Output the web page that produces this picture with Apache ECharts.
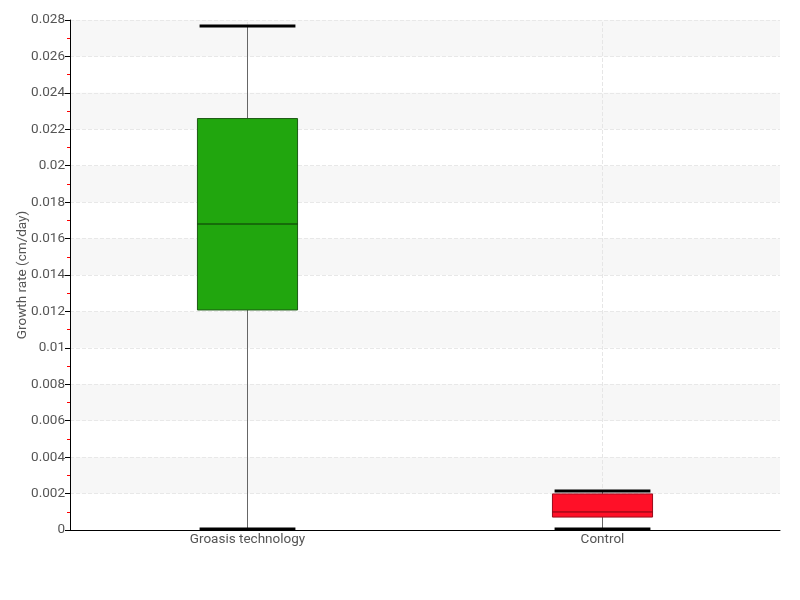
<!DOCTYPE html>
<html><head><meta charset="utf-8">
<script src="https://cdn.jsdelivr.net/npm/echarts@6/dist/echarts.min.js"></script>
<style>html,body{margin:0;padding:0;background:#fff}#c{width:800px;height:600px}</style>
</head><body><div id="c"></div>
<script>
var categories = ['Groasis technology', 'Control'];
var whiskerLow = [0.00005, 0.00005];
var q1 = [0.01208, 0.00071];
var median = [0.0168, 0.00099];
var q3 = [0.02259, 0.00198];
var whiskerHigh = [0.02767, 0.00214];
var boxColors = ['#21a60e', '#ff1028'];
var borderColors = ['#1d5a14', '#9a0a1a'];
var medianColors = ['#0c3306', '#7a0612'];

var data = categories.map(function (c, i) {
  return [i, whiskerLow[i], q1[i], median[i], q3[i], whiskerHigh[i]];
});
var font = "'Roboto','Liberation Sans Narrow',sans-serif";

function renderItem(params, api) {
  var i = api.value(0);
  var pLow = api.coord([i, api.value(1)]);
  var pQ1 = api.coord([i, api.value(2)]);
  var pMed = api.coord([i, api.value(3)]);
  var pQ3 = api.coord([i, api.value(4)]);
  var pHigh = api.coord([i, api.value(5)]);
  var band = api.size([1, 0])[0];
  var bw = band * 0.282, cw = band * 0.27;
  var x = pQ1[0];
  return {
    type: 'group',
    children: [
      { type: 'line', shape: { x1: x, y1: pHigh[1], x2: x, y2: pQ3[1] }, style: { stroke: '#666', lineWidth: 1 } },
      { type: 'line', shape: { x1: x, y1: pQ1[1], x2: x, y2: pLow[1] }, style: { stroke: '#666', lineWidth: 1 } },
      { type: 'rect', shape: { x: x - bw / 2, y: pQ3[1], width: bw, height: pQ1[1] - pQ3[1] },
        style: { fill: boxColors[i], stroke: borderColors[i], lineWidth: 1 } },
      { type: 'line', shape: { x1: x - bw / 2, y1: pMed[1], x2: x + bw / 2, y2: pMed[1] }, style: { stroke: medianColors[i], lineWidth: 1 } },
      { type: 'line', shape: { x1: x - cw / 2, y1: pHigh[1], x2: x + cw / 2, y2: pHigh[1] }, style: { stroke: '#000', lineWidth: 3 } },
      { type: 'line', shape: { x1: x - cw / 2, y1: pLow[1], x2: x + cw / 2, y2: pLow[1] }, style: { stroke: '#000', lineWidth: 3 } }
    ]
  };
}

var chart = echarts.init(document.getElementById('c'), null, { renderer: 'canvas' });
chart.setOption({
  animation: false,
  backgroundColor: '#fff',
  grid: { left: 70, right: 20, top: 20, bottom: 70, containLabel: false },
  xAxis: {
    type: 'category',
    data: categories,
    boundaryGap: true,
    axisLine: { lineStyle: { color: '#000', width: 1 } },
    axisTick: { show: false },
    axisLabel: { color: '#555', fontSize: 13.5, fontFamily: font, margin: 3 },
    splitLine: { show: false }
  },
  yAxis: {
    type: 'value',
    min: 0, max: 0.028, interval: 0.002,
    name: 'Growth rate (cm/day)',
    nameLocation: 'middle',
    nameGap: 40,
    nameMoveOverlap: false,
    nameTextStyle: { color: '#555', fontSize: 13.5, fontFamily: font },
    axisLine: { show: true, lineStyle: { color: '#000', width: 1 } },
    axisTick: { show: true, length: 5, lineStyle: { color: '#000' } },
    minorTick: { show: true, splitNumber: 2, length: 3, lineStyle: { color: '#ff0000' } },
    axisLabel: { color: '#555', fontSize: 13.5, fontFamily: font, margin: 5 },
    splitLine: { show: true, lineStyle: { color: '#e8e8e8', type: 'dashed' } },
    splitArea: { show: true, areaStyle: { color: ['rgba(255,255,255,0)', '#f7f7f7'] } }
  },
  series: [{
    type: 'custom',
    renderItem: renderItem,
    data: data,
    encode: { x: 0, y: [1, 2, 3, 4, 5] },
    z: 5,
    markLine: {
      silent: true, symbol: 'none', label: { show: false },
      lineStyle: { color: '#e6e6e6', type: 'dashed', width: 1 },
      z: 1,
      data: categories.map(function (c) { return { xAxis: c }; })
    }
  }]
});
</script></body></html>
